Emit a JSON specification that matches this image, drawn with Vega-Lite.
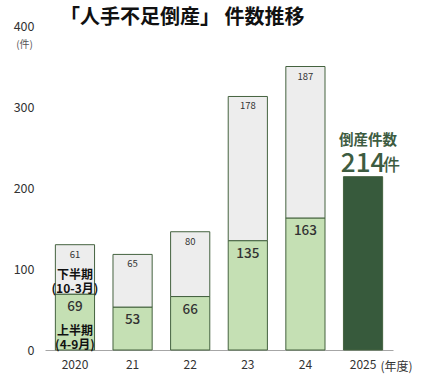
{
  "$schema": "https://vega.github.io/schema/vega-lite/v6.json",
  "width": 348,
  "height": 324,
  "autosize": {"type": "none"},
  "padding": {"left": 45, "top": 26, "right": 38, "bottom": 32},
  "background": "white",
  "config": {"view": {"stroke": null}, "font": "Noto Sans CJK JP"},
  "title": {"text": "「人手不足倒産」 件数推移", "anchor": "start", "frame": "group", "dx": 15, "dy": 10, "offset": 2, "fontSize": 20, "fontWeight": "bold", "color": "#111111", "font": "Noto Sans CJK JP"},
  "data": {"values": [
    {"year": "2020", "half": "上半期", "value": 69},
    {"year": "2020", "half": "下半期", "value": 61},
    {"year": "21", "half": "上半期", "value": 53},
    {"year": "21", "half": "下半期", "value": 65},
    {"year": "22", "half": "上半期", "value": 66},
    {"year": "22", "half": "下半期", "value": 80},
    {"year": "23", "half": "上半期", "value": 135},
    {"year": "23", "half": "下半期", "value": 178},
    {"year": "24", "half": "上半期", "value": 163},
    {"year": "24", "half": "下半期", "value": 187},
    {"year": "2025", "half": "通年", "value": 214}
  ]},
  "transform": [
    {"stack": "value", "groupby": ["year"], "sort": [{"field": "half", "order": "ascending"}], "as": ["v0", "v1"]}
  ],
  "encoding": {
    "x": {
      "field": "year", "type": "ordinal",
      "sort": ["2020", "21", "22", "23", "24", "2025"],
      "scale": {"paddingInner": 0.32, "paddingOuter": 0.18},
      "axis": {"title": "(年度)", "titleX": 335, "titleY": 16, "titleAlign": "left", "titleBaseline": "middle", "titleFontSize": 12, "titleFontWeight": "normal", "titleColor": "#333333", "labelAngle": 0, "ticks": false, "domainColor": "#a6a6a6", "labelPadding": 9, "labelFontSize": 12, "labelColor": "#333333"}
    }
  },
  "layer": [
    {
      "mark": {"type": "bar", "stroke": "#44623f", "strokeWidth": 1},
      "encoding": {
        "y": {"field": "v1", "type": "quantitative", "scale": {"domain": [0, 400]},
          "axis": {"title": "(件)", "titleAngle": 0, "titleX": -21, "titleY": 18, "titleAlign": "center", "titleBaseline": "middle", "titleFontSize": 10, "titleFontWeight": "normal", "titleColor": "#555555", "domain": false, "ticks": false, "grid": false, "labelPadding": 11, "labelFontSize": 12.5, "labelColor": "#333333", "values": [0, 100, 200, 300, 400]}},
        "y2": {"field": "v0"},
        "color": {"field": "half", "type": "nominal", "scale": {"domain": ["上半期", "下半期", "通年"], "range": ["#c5e0b4", "#ededed", "#375a3c"]}, "legend": null}
      }
    },
    {
      "transform": [{"filter": "datum.half == '上半期'"}],
      "mark": {"type": "text", "baseline": "top", "dy": 6, "fontSize": 13.5, "fontWeight": 500, "color": "#333333"},
      "encoding": {"y": {"field": "v1", "type": "quantitative"}, "text": {"field": "value", "type": "quantitative"}}
    },
    {
      "transform": [{"filter": "datum.half == '下半期'"}],
      "mark": {"type": "text", "baseline": "top", "dy": 5, "fontSize": 9.5, "color": "#333333"},
      "encoding": {"y": {"field": "v1", "type": "quantitative"}, "text": {"field": "value", "type": "quantitative"}}
    },
    {
      "transform": [{"filter": "datum.half == '通年'"}],
      "mark": {"type": "text", "baseline": "alphabetic", "dy": -32, "dx": 5, "fontSize": 14.5, "fontWeight": "bold", "color": "#3d5c41", "text": "倒産件数"},
      "encoding": {"y": {"field": "v1", "type": "quantitative"}}
    },
    {
      "transform": [{"filter": "datum.half == '通年'"}],
      "mark": {"type": "text", "baseline": "alphabetic", "dy": -5, "fontSize": 26, "fontWeight": 500, "color": "#3d5c41"},
      "encoding": {"y": {"field": "v1", "type": "quantitative"}, "text": {"field": "value", "type": "quantitative"}}
    },
    {
      "transform": [{"filter": "datum.half == '通年'"}],
      "mark": {"type": "text", "baseline": "alphabetic", "align": "left", "dx": 20, "dy": -6, "fontSize": 17, "fontWeight": 500, "color": "#3d5c41", "text": "件"},
      "encoding": {"y": {"field": "v1", "type": "quantitative"}}
    },
    {
      "data": {"values": [
        {"year": "2020", "pos": 92, "label": ["下半期", "(10-3月)"]},
        {"year": "2020", "pos": 24, "label": ["上半期", "(4-9月)"]}
      ]},
      "transform": [],
      "mark": {"type": "text", "baseline": "middle", "fontSize": 12, "fontWeight": "bold", "lineHeight": 14, "color": "#111111"},
      "encoding": {"y": {"field": "pos", "type": "quantitative"}, "text": {"field": "label"}}
    }
  ]
}
